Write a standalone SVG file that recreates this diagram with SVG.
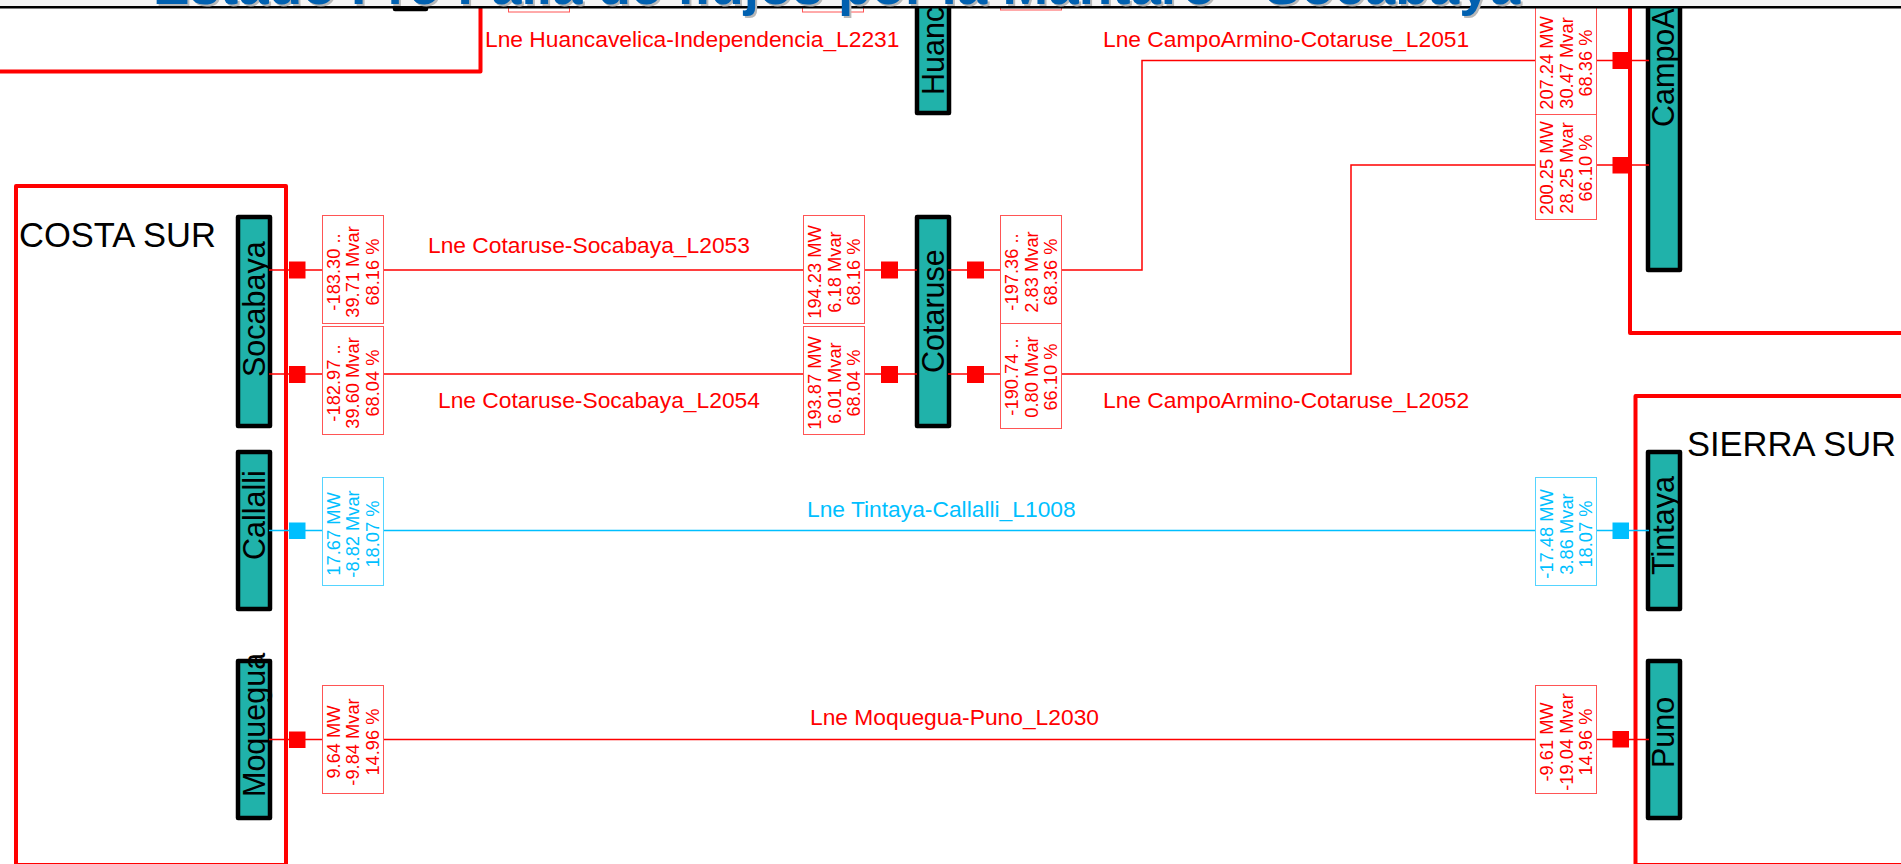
<svg xmlns="http://www.w3.org/2000/svg" width="1901" height="864" viewBox="0 0 1901 864">
<style>
text{font-family:"Liberation Sans",Arial,sans-serif}
.zone{fill:none;stroke:#f00;stroke-width:4;stroke-linejoin:round}
.bus{fill:#20b2aa;stroke:#000;stroke-width:4.5;stroke-linejoin:round}
.busl{font-size:30.5px;fill:#000}
.zl{font-size:34.5px;fill:#000}
.w{fill:none;stroke:#f00;stroke-width:1.5}
.b{fill:none;stroke:#00bfff;stroke-width:1.5}
.lbl{font-size:22.8px;fill:#f00}
.lblb{font-size:22.8px;fill:#00bfff}
.box{fill:#fff;stroke:#f55;stroke-width:1}
.boxb{fill:#fff;stroke:#55d4ff;stroke-width:1}
.v text{font-size:18.3px;text-anchor:middle;fill:#f00}
.vb text{font-size:18.3px;text-anchor:middle;fill:#00bfff}
.sq{fill:#f00}.sqb{fill:#00bfff}
.title{font-size:54.8px;font-weight:bold;fill:#0060b0}
.shadow{font-size:54.8px;font-weight:bold;fill:#b8b8b8}
</style>
<rect width="1901" height="864" fill="#fff"/>
<g id="zones">
<path class="zone" d="M0 71.5H480.5V0"/>
<rect class="zone" x="16" y="186" width="270" height="679"/>
<path class="zone" d="M1630 0V333H1903"/>
<path class="zone" d="M1903 396H1635.5V865H1903"/>
</g>
<text class="zl" x="19" y="247">COSTA SUR</text>
<text class="zl" x="1687" y="456">SIERRA SUR</text>

<g id="bus-socabaya"><rect class="bus" x="238" y="217" width="32" height="209"/><text class="busl" transform="translate(265,377) rotate(-90)">Socabaya</text></g>
<g id="bus-callalli"><rect class="bus" x="238" y="452" width="32" height="157"/><text class="busl" transform="translate(265,560) rotate(-90)">Callalli</text></g>
<g id="bus-moquegua"><rect class="bus" x="238" y="661" width="32" height="157"/><text class="busl" transform="translate(265,797) rotate(-90)">Moquegua</text></g>
<g id="bus-cotaruse"><rect class="bus" x="917" y="217" width="32" height="209"/><text class="busl" transform="translate(944,373) rotate(-90)">Cotaruse</text></g>
<g id="bus-huancavelica"><rect class="bus" x="917" y="-100" width="32" height="213"/><text class="busl" transform="translate(944,95) rotate(-90)">Huancavelica</text></g>
<g id="bus-campoarmino"><rect class="bus" x="1648" y="-100" width="32" height="370"/><text class="busl" transform="translate(1674,127) rotate(-90)">CampoArmino</text></g>
<g id="bus-tintaya"><rect class="bus" x="1648" y="452" width="32" height="157"/><text class="busl" transform="translate(1674,575) rotate(-90)">Tintaya</text></g>
<g id="bus-puno"><rect class="bus" x="1648" y="661" width="32" height="157"/><text class="busl" transform="translate(1674,768) rotate(-90)">Puno</text></g>
<g id="bus-top"><rect class="bus" x="395" y="-100" width="31" height="109"/></g>

<g id="connectors">
<path class="w" d="M269 270H917M948 270H1142V60.5H1649"/>
<path class="w" d="M269 374H917M948 374H1351V165H1649"/>
<path class="b" d="M269 530.5H1649"/>
<path class="w" d="M269 739.5H1649"/>
<path class="w" d="M539 0V12M833 0V12M1031 0V10"/>
<rect class="sq" x="289" y="261.500" width="16.500" height="17"/>
<rect class="sq" x="289" y="366" width="16.500" height="17"/>
<rect class="sqb" x="289" y="522.500" width="16.500" height="16.500"/>
<rect class="sq" x="289" y="731.500" width="16.500" height="16.500"/>
<rect class="sq" x="881" y="261.500" width="17" height="17"/>
<rect class="sq" x="881" y="366" width="17" height="17"/>
<rect class="sq" x="967" y="261.500" width="17" height="17"/>
<rect class="sq" x="967" y="366" width="17" height="17"/>
<rect class="sq" x="1612.500" y="52" width="16.500" height="17"/>
<rect class="sq" x="1612.500" y="157" width="16.500" height="16.500"/>
<rect class="sqb" x="1612.500" y="522.500" width="16.500" height="16.500"/>
<rect class="sq" x="1612.500" y="731" width="16.500" height="16.500"/>
</g>

<g id="line-labels">
<text class="lbl" x="485" y="47">Lne Huancavelica-Independencia_L2231</text>
<text class="lbl" x="1103" y="47">Lne CampoArmino-Cotaruse_L2051</text>
<text class="lbl" x="428" y="253">Lne Cotaruse-Socabaya_L2053</text>
<text class="lbl" x="438" y="408">Lne Cotaruse-Socabaya_L2054</text>
<text class="lbl" x="1103" y="408">Lne CampoArmino-Cotaruse_L2052</text>
<text class="lblb" x="807" y="517">Lne Tintaya-Callalli_L1008</text>
<text class="lbl" x="810" y="725">Lne Moquegua-Puno_L2030</text>
</g>

<g id="flow-labels">
<rect class="box" x="508.500" y="-90" width="61" height="102"/>
<rect class="box" x="802.500" y="-90" width="61" height="102"/>
<rect class="box" x="1000.500" y="-90" width="61" height="100"/>

<g class="v" transform="translate(322.500,215.500)"><rect class="box" width="61" height="108"/><g transform="translate(0,56.500) rotate(-90)"><text y="17">-183.30 ..</text><text y="36.500">39.71 Mvar</text><text y="56">68.16 %</text></g></g>
<g class="v" transform="translate(322.500,326.500)"><rect class="box" width="61" height="108"/><g transform="translate(0,56.500) rotate(-90)"><text y="17">-182.97 ..</text><text y="36.500">39.60 Mvar</text><text y="56">68.04 %</text></g></g>
<g class="vb" transform="translate(322.500,477.500)"><rect class="boxb" width="61" height="108"/><g transform="translate(0,56.500) rotate(-90)"><text y="17">17.67 MW</text><text y="36.500">-8.82 Mvar</text><text y="56">18.07 %</text></g></g>
<g class="v" transform="translate(322.500,685.500)"><rect class="box" width="61" height="108"/><g transform="translate(0,56.500) rotate(-90)"><text y="17">9.64 MW</text><text y="36.500">-9.84 Mvar</text><text y="56">14.96 %</text></g></g>

<g class="v" transform="translate(803.500,215.500)"><rect class="box" width="61" height="108"/><g transform="translate(0,56.500) rotate(-90)"><text y="17.500">194.23 MW</text><text y="37">6.18 Mvar</text><text y="56.500">68.16 %</text></g></g>
<g class="v" transform="translate(803.500,326.500)"><rect class="box" width="61" height="108"/><g transform="translate(0,56.500) rotate(-90)"><text y="17.500">193.87 MW</text><text y="37">6.01 Mvar</text><text y="56.500">68.04 %</text></g></g>

<g class="v" transform="translate(1000.500,320.500)"><rect class="box" width="61" height="108"/><g transform="translate(0,56.500) rotate(-90)"><text y="17.500">-190.74 ..</text><text y="37">0.80 Mvar</text><text y="56.500">66.10 %</text></g></g>
<g class="v" transform="translate(1000.500,215.500)"><rect class="box" width="61" height="108"/><g transform="translate(0,56.500) rotate(-90)"><text y="17.500">-197.36 ..</text><text y="37">2.83 Mvar</text><text y="56.500">68.36 %</text></g></g>

<g class="v" transform="translate(1535.500,111.500)"><rect class="box" width="61" height="108"/><g transform="translate(0,56.500) rotate(-90)"><text y="17.500">200.25 MW</text><text y="37">28.25 Mvar</text><text y="56.500">66.10 %</text></g></g>
<g class="v" transform="translate(1535.500,6.500)"><rect class="box" width="61" height="108"/><g transform="translate(0,56.500) rotate(-90)"><text y="17.500">207.24 MW</text><text y="37">30.47 Mvar</text><text y="56.500">68.36 %</text></g></g>
<g class="vb" transform="translate(1535.500,477.500)"><rect class="boxb" width="61" height="108"/><g transform="translate(0,56.500) rotate(-90)"><text y="17.500">-17.48 MW</text><text y="37">3.86 Mvar</text><text y="56.500">18.07 %</text></g></g>
<g class="v" transform="translate(1535.500,685.500)"><rect class="box" width="61" height="108"/><g transform="translate(0,56.500) rotate(-90)"><text y="17.500">-9.61 MW</text><text y="37">-19.04 Mvar</text><text y="56.500">14.96 %</text></g></g>
</g>

<g id="header">
<rect x="0" y="0" width="1901" height="6.500" fill="#f5f5f5"/>
<rect x="0" y="6" width="1901" height="2.500" fill="#000"/>
<text class="shadow" x="155" y="5.500">Estado Pre-Falla de flujos por la Mantaro - Socabaya</text>
<text class="title" x="153" y="3.500">Estado Pre-Falla de flujos por la Mantaro - Socabaya</text>
</g>
</svg>
